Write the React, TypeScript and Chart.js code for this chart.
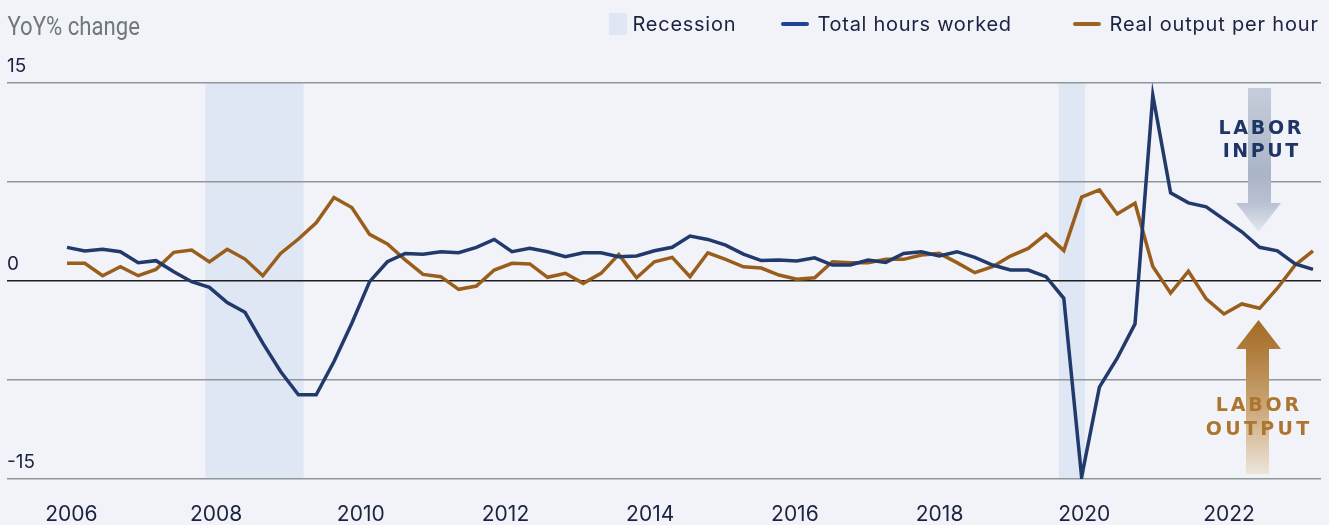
import React, { useEffect, useRef } from 'react';
import { Chart, registerables } from 'chart.js';

Chart.register(...registerables);

// ---------------- data ----------------
const quarters: string[] = [
  '2006 Q1', '2006 Q2', '2006 Q3', '2006 Q4',
  '2007 Q1', '2007 Q2', '2007 Q3', '2007 Q4',
  '2008 Q1', '2008 Q2', '2008 Q3', '2008 Q4',
  '2009 Q1', '2009 Q2', '2009 Q3', '2009 Q4',
  '2010 Q1', '2010 Q2', '2010 Q3', '2010 Q4',
  '2011 Q1', '2011 Q2', '2011 Q3', '2011 Q4',
  '2012 Q1', '2012 Q2', '2012 Q3', '2012 Q4',
  '2013 Q1', '2013 Q2', '2013 Q3', '2013 Q4',
  '2014 Q1', '2014 Q2', '2014 Q3', '2014 Q4',
  '2015 Q1', '2015 Q2', '2015 Q3', '2015 Q4',
  '2016 Q1', '2016 Q2', '2016 Q3', '2016 Q4',
  '2017 Q1', '2017 Q2', '2017 Q3', '2017 Q4',
  '2018 Q1', '2018 Q2', '2018 Q3', '2018 Q4',
  '2019 Q1', '2019 Q2', '2019 Q3', '2019 Q4',
  '2020 Q1', '2020 Q2', '2020 Q3', '2020 Q4',
  '2021 Q1', '2021 Q2', '2021 Q3', '2021 Q4',
  '2022 Q1', '2022 Q2', '2022 Q3', '2022 Q4',
  '2023 Q1', '2023 Q2', '2023 Q3',
];

const totalHoursWorked: number[] = [
  2.55, 2.27, 2.4, 2.22, 1.38, 1.54, 0.7, -0.05, -0.48, -1.64,
  -2.37, -4.71, -6.86, -8.62, -8.62, -6.1, -3.2, -0.05, 1.46, 2.09,
  2.02, 2.22, 2.14, 2.55, 3.15, 2.22, 2.47, 2.22, 1.84, 2.14,
  2.14, 1.84, 1.89, 2.29, 2.55, 3.4, 3.15, 2.72, 2.04, 1.55,
  1.59, 1.51, 1.76, 1.21, 1.21, 1.59, 1.41, 2.09, 2.22, 1.89,
  2.22, 1.79, 1.21, 0.83, 0.83, 0.33, -1.31, -14.85, -8.04, -5.85,
  -3.25, 14.07, 6.68, 5.92, 5.62, 4.67, 3.73, 2.55, 2.29, 1.29, 0.88,
];

const realOutputPerHour: number[] = [
  1.34, 1.34, 0.4, 1.08, 0.4, 0.88, 2.17, 2.34, 1.44, 2.4,
  1.66, 0.4, 2.09, 3.18, 4.41, 6.33, 5.57, 3.53, 2.8, 1.6,
  0.5, 0.33, -0.63, -0.38, 0.83, 1.34, 1.29, 0.28, 0.58, -0.18,
  0.58, 2.02, 0.25, 1.46, 1.79, 0.33, 2.14, 1.64, 1.08, 0.98,
  0.45, 0.13, 0.25, 1.46, 1.39, 1.39, 1.64, 1.64, 1.97, 2.09,
  1.39, 0.63, 1.08, 1.89, 2.47, 3.55, 2.3, 6.35, 6.9, 5.08,
  5.89, 1.1, -0.92, 0.74, -1.36, -2.5, -1.74, -2.07, -0.55, 1.21, 2.29,
];

const yearTicks: number[] = [2006, 2008, 2010, 2012, 2014, 2016, 2018, 2020, 2022];
const yLabelledTicks: number[] = [15, 0, -15];
const recessionStart: number[] = [2007.85, 2019.65];
const recessionEnd: number[] = [2009.21, 2020.01];

const seriesNames = ['Total hours worked', 'Real output per hour'];

// ---------------- styles ----------------
const BG = '#f1f3f8';
const NAVY_TEXT = '#1b2340';
const BLUE = '#213a6b';
const BROWN = '#9a5e1c';
const SHADE = '#e0e7f4';

function spacedText(
  ctx: CanvasRenderingContext2D,
  text: string,
  x: number,
  y: number,
  font: string,
  color: string,
  targetWidth: number,
  align: 'left' | 'center'
) {
  ctx.save();
  ctx.font = font;
  ctx.fillStyle = color;
  ctx.textBaseline = 'alphabetic';
  ctx.textAlign = 'left';
  (ctx as any).letterSpacing = '0px';
  const w = ctx.measureText(text).width;
  const n = text.length;
  const ls = (targetWidth - w) / Math.max(n - 1, 1);
  (ctx as any).letterSpacing = ls + 'px';
  const drawnWidth = w + ls * (n - 1);
  const sx = align === 'center' ? x - drawnWidth / 2 : x;
  ctx.fillText(text, sx, y);
  ctx.restore();
}

const decorPlugin = {
  id: 'decor',
  beforeDraw(chart: any) {
    const { ctx, chartArea: a, scales } = chart;
    ctx.save();
    ctx.fillStyle = BG;
    ctx.fillRect(0, 0, chart.width, chart.height);
    const ys = scales.years;
    ctx.fillStyle = SHADE;
    recessionStart.forEach((s, k) => {
      const x0 = ys.getPixelForValue(s);
      const x1 = ys.getPixelForValue(recessionEnd[k]);
      ctx.fillRect(x0, a.top, x1 - x0, a.bottom - a.top);
    });
    ctx.restore();
  },
  beforeDatasetsDraw(chart: any) {
    const { ctx } = chart;
    ctx.save();
    // Labor input arrow (down)
    let g = ctx.createLinearGradient(0, 88, 0, 232);
    g.addColorStop(0, '#c6cdda');
    g.addColorStop(0.6, '#abb5c8');
    g.addColorStop(0.8, '#b9c1d2');
    g.addColorStop(1, '#e4e7ee');
    ctx.fillStyle = g;
    ctx.beginPath();
    ctx.moveTo(1248, 88);
    ctx.lineTo(1271, 88);
    ctx.lineTo(1271, 203);
    ctx.lineTo(1281, 203);
    ctx.lineTo(1258.5, 232);
    ctx.lineTo(1236, 203);
    ctx.lineTo(1248, 203);
    ctx.closePath();
    ctx.fill();

    // Labor output arrow (up)
    g = ctx.createLinearGradient(0, 320, 0, 474);
    g.addColorStop(0, '#a36b25');
    g.addColorStop(0.2, '#b07d3c');
    g.addColorStop(0.55, '#c9a474');
    g.addColorStop(1, '#ede5da');
    ctx.fillStyle = g;
    ctx.beginPath();
    ctx.moveTo(1258.5, 320);
    ctx.lineTo(1281, 349);
    ctx.lineTo(1269, 349);
    ctx.lineTo(1269, 474);
    ctx.lineTo(1246, 474);
    ctx.lineTo(1246, 349);
    ctx.lineTo(1236, 349);
    ctx.closePath();
    ctx.fill();
    ctx.restore();

    const f = 'bold 19px "DejaVu Sans"';
    spacedText(ctx, 'LABOR', 1260, 134, f, '#1f3566', 83, 'center');
    spacedText(ctx, 'INPUT', 1260.5, 156.5, f, '#1f3566', 75.5, 'center');
    spacedText(ctx, 'LABOR', 1257.5, 410.5, f, '#ad7630', 83.5, 'center');
    spacedText(ctx, 'OUTPUT', 1257.5, 434.5, f, '#ad7630', 103.5, 'center');
  },
  afterDraw(chart: any) {
    const { ctx } = chart;
    // Title
    ctx.save();
    ctx.font = '26px Roboto';
    ctx.fillStyle = '#6f797c';
    ctx.textBaseline = 'alphabetic';
    const tw = ctx.measureText('YoY% change').width;
    ctx.translate(7.5, 35);
    ctx.scale(132.5 / tw, 1);
    ctx.fillText('YoY% change', 0, 0);
    ctx.restore();

    // Legend
    ctx.save();
    ctx.fillStyle = SHADE;
    ctx.fillRect(609, 13, 18, 22);
    ctx.lineCap = 'round';
    ctx.lineWidth = 4;
    ctx.strokeStyle = '#1f4494';
    ctx.beginPath();
    ctx.moveTo(783, 24);
    ctx.lineTo(807, 24);
    ctx.stroke();
    ctx.strokeStyle = '#9c6420';
    ctx.beginPath();
    ctx.moveTo(1075, 24);
    ctx.lineTo(1099, 24);
    ctx.stroke();
    ctx.restore();
    const lf = '20px Inter';
    spacedText(ctx, 'Recession', 632.5, 31, lf, NAVY_TEXT, 103, 'left');
    spacedText(ctx, seriesNames[0], 817.5, 31, lf, NAVY_TEXT, 193.5, 'left');
    spacedText(ctx, seriesNames[1], 1109.5, 31, lf, NAVY_TEXT, 208.5, 'left');
  },
};

export default function App() {
  const canvasRef = useRef<HTMLCanvasElement | null>(null);

  useEffect(() => {
    document.body.style.background = BG;
    const canvas = canvasRef.current;
    if (!canvas) return;
    const chart = new Chart(canvas, {
      type: 'line',
      data: {
        labels: quarters,
        datasets: [
          {
            label: seriesNames[0],
            data: totalHoursWorked.map((v, i) => ({ x: i, y: v })),
            borderColor: BLUE,
            borderWidth: 3.5,
            pointRadius: 0,
            tension: 0,
            xAxisID: 'x',
          },
          {
            label: seriesNames[1],
            data: realOutputPerHour.map((v, i) => ({ x: i, y: v })),
            borderColor: BROWN,
            borderWidth: 3.5,
            pointRadius: 0,
            tension: 0,
            xAxisID: 'x',
          },
        ],
      },
      options: {
        animation: false,
        responsive: false,
        devicePixelRatio: 1,
        events: [],
        layout: { padding: { left: 7, right: 8, top: 83, bottom: 1 } },
        plugins: {
          legend: { display: false },
          tooltip: { enabled: false },
          title: { display: false },
        },
        scales: {
          x: {
            type: 'linear',
            min: -3.371,
            max: 70.449,
            display: false,
          },
          years: {
            type: 'linear',
            axis: 'x',
            position: 'bottom',
            min: 2005.11,
            max: 2023.272,
            grid: { display: false, drawTicks: false, tickLength: 0 },
            border: { display: false },
            afterBuildTicks: (axis: any) => {
              axis.ticks = yearTicks.map((v) => ({ value: v }));
            },
            afterFit: (axis: any) => {
              axis.height = 45;
            },
            ticks: {
              autoSkip: false,
              maxRotation: 0,
              minRotation: 0,
              padding: 25,
              color: NAVY_TEXT,
              font: { family: 'Inter', size: 21, lineHeight: 1 },
              callback: (v: any) => String(v),
            },
          },
          y: {
            type: 'linear',
            position: 'left',
            min: -15,
            max: 15,
            border: { display: false },
            grid: {
              drawTicks: false,
              tickLength: 0,
              lineWidth: 1.5,
              color: (c: any) => (c.tick && c.tick.value === 0 ? '#1e1e1e' : '#8f9799'),
            },
            ticks: {
              stepSize: 7.5,
              mirror: true,
              padding: 0,
              labelOffset: -16.5,
              color: NAVY_TEXT,
              font: { family: 'Inter', size: 19 },
              callback: (v: any) => (yLabelledTicks.includes(Number(v)) ? String(v) : ''),
            },
          },
        },
      } as any,
      plugins: [decorPlugin],
    });
    return () => chart.destroy();
  }, []);

  return (
    <div style={{ position: 'absolute', left: 0, top: 0, width: 1329, height: 525, background: BG }}>
      <canvas ref={canvasRef} width={1329} height={525} style={{ display: 'block', width: 1329, height: 525 }} />
    </div>
  );
}
